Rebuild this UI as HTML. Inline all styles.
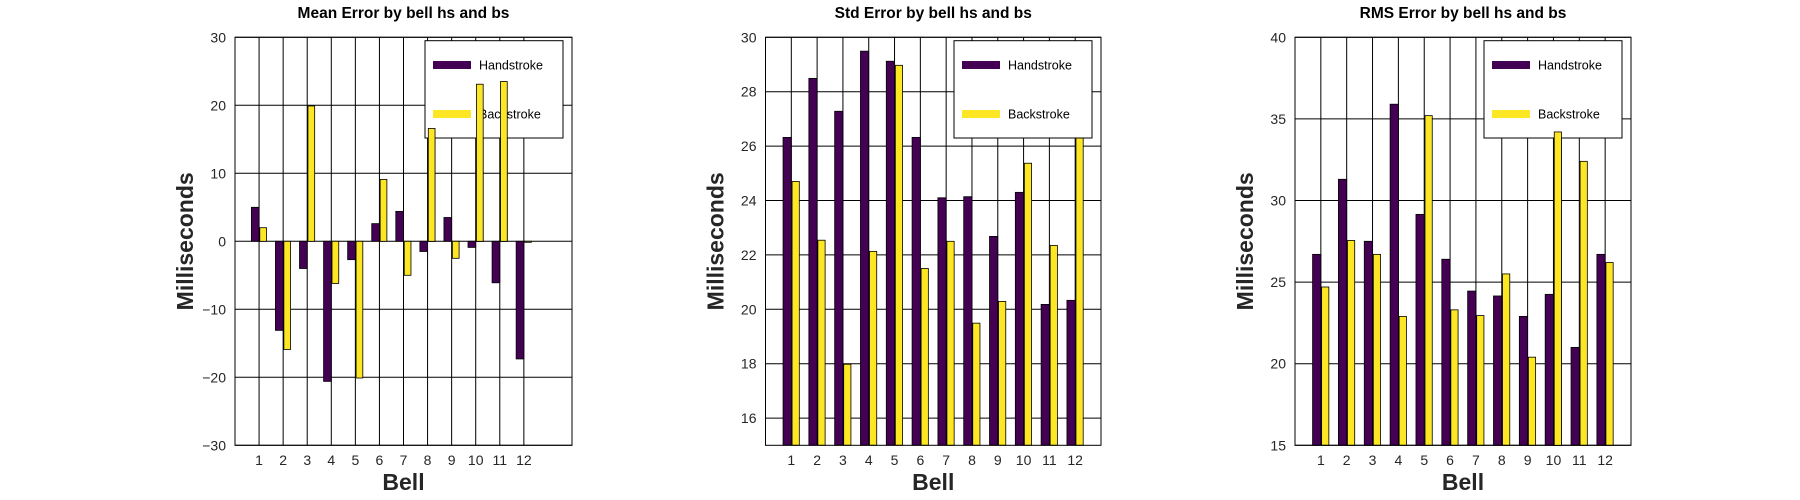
<!DOCTYPE html>
<html><head><meta charset="utf-8"><style>
html,body{margin:0;padding:0;background:#fff;width:1800px;height:500px;overflow:hidden}
svg{display:block;font-family:"Liberation Sans",sans-serif}
</style></head><body>
<svg id="s" width="1800" height="500" xmlns="http://www.w3.org/2000/svg"></svg>
<script>
const NS="http://www.w3.org/2000/svg";
const s=document.getElementById('s');
function el(t,a,txt){const e=document.createElementNS(NS,t);for(const k in a)e.setAttribute(k,a[k]);if(txt!==undefined)e.textContent=txt;s.appendChild(e);return e;}
const charts=[
 {L:235,R:572,xmax:14,ymin:-30,ymax:30,ticks:[-30,-20,-10,0,10,20,30],title:"Mean Error by bell hs and bs",
  hs:[5.0,-13.1,-4.0,-20.6,-2.7,2.6,4.4,-1.5,3.5,-0.9,-6.1,-17.3],
  bs:[2.0,-15.9,19.9,-6.2,-20.1,9.1,-5.0,16.6,-2.5,23.1,23.5,-0.15],over:[8,10,11]},
 {L:765.5,R:1101,xmax:13,ymin:15,ymax:30,ticks:[16,18,20,22,24,26,28,30],title:"Std Error by bell hs and bs",
  hs:[26.32,28.49,27.28,29.49,29.12,26.32,24.1,24.14,22.68,24.3,20.18,20.33],
  bs:[24.7,22.54,17.98,22.13,28.97,21.5,22.5,19.49,20.29,25.37,22.35,26.5],over:[]},
 {L:1295,R:1631,xmax:13,ymin:15,ymax:40,ticks:[15,20,25,30,35,40],title:"RMS Error by bell hs and bs",
  hs:[26.7,31.3,27.5,35.9,29.15,26.4,24.45,24.15,22.9,24.25,21.0,26.7],
  bs:[24.7,27.55,26.7,22.9,35.2,23.3,22.95,25.5,20.4,34.2,32.4,26.2],over:[10]}
];
const T=37.3,B=445.3;
charts.forEach(c=>{
 const W=c.R-c.L;
 const X=v=>c.L+v/c.xmax*W;
 const Y=v=>B-(v-c.ymin)/(c.ymax-c.ymin)*(B-T);
 const base=c.ymin<0?0:c.ymin;
 el('rect',{x:c.L,y:T,width:W,height:B-T,fill:'#fff',stroke:'none'});
 c.ticks.forEach(t=>{el('line',{x1:c.L,x2:c.R,y1:Y(t),y2:Y(t),stroke:'#000','stroke-width':1});});
 for(let i=1;i<=12;i++)el('line',{x1:X(i),x2:X(i),y1:T,y2:B,stroke:'#000','stroke-width':1});
 function bar(cx,v,a,b,col){
   const y1=Y(Math.max(v,base)),y2=Y(Math.min(v,base));
   el('rect',{x:X(cx+a),y:y1,width:X(cx+b)-X(cx+a),height:Math.max(y2-y1,0.8),fill:col,stroke:'#000','stroke-width':0.8});
 }
 for(let i=0;i<12;i++){
  bar(i+1,c.hs[i],-0.32,0,'#440154');
  bar(i+1,c.bs[i],0.03,0.31,'#fde725');
 }
 el('rect',{x:c.L,y:T,width:W,height:B-T,fill:'none',stroke:'#000','stroke-width':1});
 c.ticks.forEach(t=>{el('text',{x:c.L-9,y:Y(t)+5,'text-anchor':'end','font-size':14,fill:'#262626'},t<0?'\u2212'+(-t):String(t));});
 for(let i=1;i<=12;i++)el('text',{x:X(i),y:465,'text-anchor':'middle','font-size':14,fill:'#262626'},String(i));
 el('text',{x:(c.L+c.R)/2,y:18,'text-anchor':'middle','font-size':15.5,'font-weight':'bold',fill:'#000'},c.title);
 el('text',{x:(c.L+c.R)/2,y:490,'text-anchor':'middle','font-size':23,'font-weight':'bold',fill:'#262626'},'Bell');
 const lx=c.L-42,ly=(T+B)/2;
 el('text',{x:lx,y:ly,'text-anchor':'middle','font-size':23,'font-weight':'bold',fill:'#262626',transform:`rotate(-90 ${lx} ${ly})`},'Milliseconds');
 const gx=c.R-9-138;
 el('rect',{x:gx,y:40.7,width:138,height:97.3,fill:'#fff',stroke:'#000','stroke-width':1});
 el('rect',{x:gx+8,y:61,width:38,height:8,fill:'#440154'});
 el('rect',{x:gx+8,y:110,width:38,height:8,fill:'#fde725'});
 el('text',{x:gx+54,y:69.5,'font-size':12.5,fill:'#000'},'Handstroke');
 el('text',{x:gx+54,y:118.5,'font-size':12.5,fill:'#000'},'Backstroke');
 c.over.forEach(i=>{bar(i,c.bs[i-1],0.03,0.31,'#fde725');});
});
</script>
</body></html>
